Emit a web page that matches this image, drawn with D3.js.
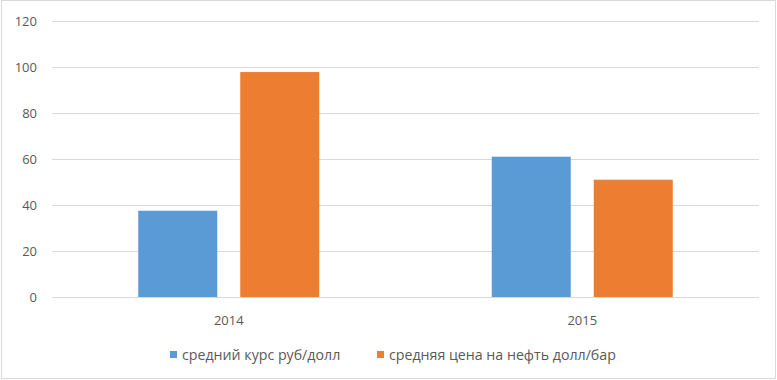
<!DOCTYPE html>
<html>
<head>
<meta charset="utf-8">
<script src="https://cdn.jsdelivr.net/npm/d3@7"></script>
<style>
  body { margin: 0; background: #fff; }
  svg { display: block; font-family: "Open Sans", "Noto Sans", sans-serif; }
</style>
</head>
<body>
<svg width="777" height="380"></svg>
<script>
const years = ["2014", "2015"];
const seriesNames = ["средний курс руб/долл", "средняя цена на нефть долл/бар"];
const rubRate = [37.5, 61];
const oilPrice = [97.8, 51];
const yTicks = [0, 20, 40, 60, 80, 100, 120];
const colors = ["#5b9bd5", "#ed7d31"];

const svg = d3.select("svg");

// outer frame
svg.append("rect")
  .attr("x", 1.5).attr("y", 0.5)
  .attr("width", 774).attr("height", 378)
  .attr("fill", "none").attr("stroke", "#d9d9d9");

const margin = { left: 52, right: 18, top: 21, bottom: 83 };
const width = 777, height = 380;

const y = d3.scaleLinear()
  .domain([0, 120])
  .range([height - margin.bottom, margin.top]);

const x0 = d3.scaleBand()
  .domain(years)
  .range([margin.left, width - margin.right])
  .padding(0);

const groupW = 181;
const x1 = d3.scaleBand()
  .domain(seriesNames)
  .range([x0.bandwidth() / 2 - groupW / 2, x0.bandwidth() / 2 + groupW / 2])
  .paddingInner(0.2255);

// gridlines
svg.append("g")
  .selectAll("line")
  .data(yTicks)
  .join("line")
  .attr("x1", margin.left)
  .attr("x2", width - margin.right)
  .attr("y1", d => Math.round(y(d)) + 0.5)
  .attr("y2", d => Math.round(y(d)) + 0.5)
  .attr("stroke", "#d9d9d9")
  .attr("stroke-width", 1);

// y tick labels
svg.append("g")
  .selectAll("text")
  .data(yTicks)
  .join("text")
  .attr("x", 37)
  .attr("y", d => y(d))
  .attr("dy", "0.35em")
  .attr("text-anchor", "end")
  .attr("font-size", 13)
  .attr("fill", "#595959")
  .text(d => d);

// bars
const rows = years.map((yr, i) => ({ year: yr, values: [rubRate[i], oilPrice[i]] }));

const groups = svg.append("g")
  .selectAll("g")
  .data(rows)
  .join("g")
  .attr("transform", d => `translate(${x0(d.year)},0)`);

groups.selectAll("rect")
  .data(d => d.values.map((v, j) => ({ key: seriesNames[j], value: v, j })))
  .join("rect")
  .attr("x", d => x1(d.key))
  .attr("width", x1.bandwidth())
  .attr("y", d => y(d.value))
  .attr("height", d => y(0) - y(d.value))
  .attr("fill", d => colors[d.j]);

// x labels
svg.append("g")
  .selectAll("text")
  .data(years)
  .join("text")
  .attr("x", d => x0(d) + x0.bandwidth() / 2)
  .attr("y", 320)
  .attr("dy", "0.35em")
  .attr("text-anchor", "middle")
  .attr("font-size", 13)
  .attr("fill", "#595959")
  .text(d => d);

// legend
const legendX = [170, 377];
const legend = svg.append("g")
  .selectAll("g")
  .data(seriesNames)
  .join("g")
  .attr("transform", (d, i) => `translate(${legendX[i]},355)`);

legend.append("rect")
  .attr("x", 0).attr("y", -4)
  .attr("width", 7).attr("height", 7)
  .attr("fill", (d, i) => colors[i]);

legend.append("text")
  .attr("x", 12)
  .attr("dy", "0.35em")
  .attr("font-size", 14.2)
  .attr("fill", "#595959")
  .text(d => d);
</script>
</body>
</html>
